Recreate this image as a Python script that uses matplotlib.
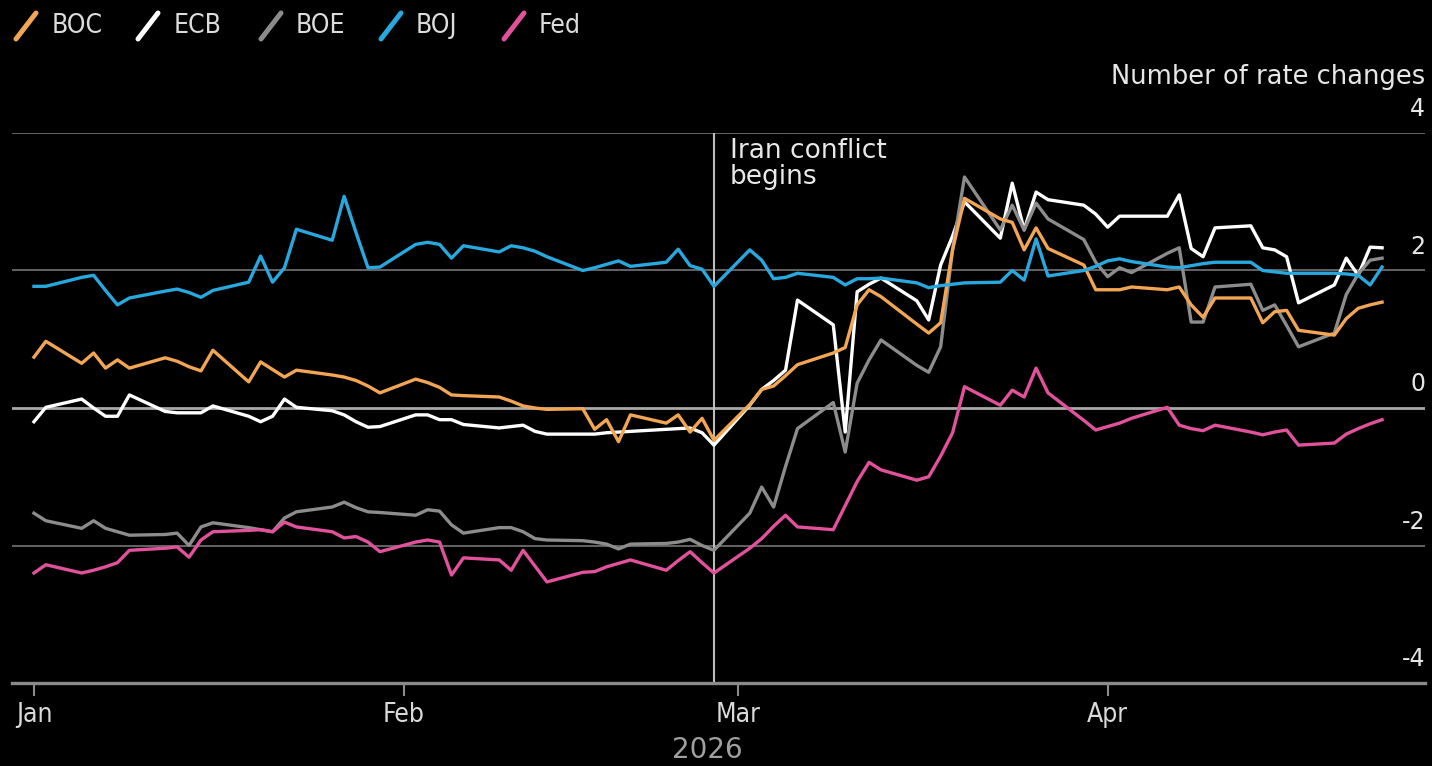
import numpy as np
import pandas as pd
import matplotlib
matplotlib.use("Agg")
import matplotlib.pyplot as plt
import matplotlib.transforms as mtransforms
from matplotlib.lines import Line2D
from matplotlib import font_manager as fm

plt.rcParams['axes.unicode_minus'] = False

# ---------------- data ----------------
dates = pd.bdate_range('2026-01-01', '2026-04-24')

boc = [0.74, 0.97, 0.65, 0.80, 0.58, 0.70, 0.58, 0.73, 0.68, 0.60, 0.54, 0.84, 0.38, 0.67, 0.56, 0.45, 0.55, 0.48, 0.45, 0.40, 0.32, 0.22,
       0.42, 0.37, 0.30, 0.19, 0.18, 0.16, 0.10, 0.03, 0.00, -0.02, -0.01, -0.31, -0.17, -0.49, -0.10, -0.22, -0.10, -0.35, -0.15, -0.47,
       0.05, 0.27, 0.32, 0.47, 0.63, 0.80, 0.88, 1.50, 1.72, 1.62, 1.22, 1.09, 1.24, 2.30, 3.05, 2.75, 2.70, 2.30, 2.62, 2.32, 2.08, 1.72,
       1.72, 1.72, 1.76, 1.72, 1.76, 1.50, 1.32, 1.60, 1.60, 1.24, 1.40, 1.42, 1.13, 1.06, 1.30, 1.45, 1.50, 1.54]

ecb = [-0.20, 0.01, 0.13, 0.00, -0.12, -0.12, 0.19, -0.05, -0.07, -0.07, -0.07, 0.03, -0.12, -0.20, -0.12, 0.13, 0.01, -0.04, -0.10, -0.20, -0.28, -0.27,
       -0.10, -0.10, -0.17, -0.17, -0.24, -0.29, -0.27, -0.25, -0.34, -0.38, -0.38, -0.38, -0.36, -0.35, -0.34, -0.31, -0.30, -0.29, -0.36, -0.54,
       0.04, 0.27, 0.40, 0.55, 1.57, 1.21, -0.35, 1.69, 1.80, 1.89, 1.56, 1.28, 2.08, 2.50, 3.00, 2.47, 3.27, 2.59, 3.14, 3.03, 2.95, 2.82,
       2.63, 2.79, 2.79, 2.79, 3.10, 2.32, 2.20, 2.62, 2.65, 2.33, 2.30, 2.20, 1.53, 1.79, 2.18, 1.93, 2.34, 2.33]

boe = [-1.53, -1.64, -1.75, -1.64, -1.75, -1.80, -1.85, -1.84, -1.82, -2.00, -1.73, -1.67, -1.74, -1.77, -1.80, -1.60, -1.51, -1.44, -1.37, -1.45, -1.51, -1.52,
       -1.56, -1.48, -1.50, -1.70, -1.82, -1.74, -1.74, -1.80, -1.90, -1.92, -1.93, -1.95, -1.98, -2.05, -1.98, -1.97, -1.95, -1.91, -2.00, -2.07,
       -1.53, -1.15, -1.44, -0.85, -0.30, 0.08, -0.64, 0.36, 0.70, 0.99, 0.62, 0.52, 0.89, 2.30, 3.36, 2.59, 2.95, 2.59, 2.98, 2.75, 2.45, 2.12,
       1.91, 2.04, 1.97, 2.25, 2.33, 1.25, 1.25, 1.76, 1.80, 1.42, 1.50, 1.20, 0.89, 1.09, 1.65, 1.95, 2.15, 2.18]

boj = [1.77, 1.77, 1.90, 1.93, 1.71, 1.50, 1.60, 1.70, 1.73, 1.68, 1.61, 1.71, 1.83, 2.21, 1.83, 2.04, 2.60, 2.44, 3.08, 2.55, 2.04, 2.05,
       2.38, 2.41, 2.38, 2.18, 2.36, 2.27, 2.36, 2.33, 2.28, 2.20, 2.00, 2.04, 2.09, 2.14, 2.06, 2.12, 2.31, 2.07, 2.02, 1.77,
       2.30, 2.15, 1.88, 1.90, 1.96, 1.90, 1.79, 1.88, 1.88, 1.89, 1.82, 1.75, 1.78, 1.80, 1.82, 1.83, 2.00, 1.86, 2.46, 1.92, 2.00, 2.06,
       2.14, 2.17, 2.13, 2.05, 2.04, 2.07, 2.10, 2.12, 2.12, 2.00, 1.98, 1.96, 1.96, 1.96, 1.95, 1.93, 1.79, 2.05]

fed = [-2.40, -2.28, -2.40, -2.36, -2.31, -2.25, -2.07, -2.04, -2.02, -2.17, -1.92, -1.80, -1.78, -1.77, -1.80, -1.66, -1.73, -1.80, -1.89, -1.87, -1.95, -2.09,
       -1.95, -1.92, -1.95, -2.43, -2.18, -2.21, -2.36, -2.07, -2.30, -2.53, -2.39, -2.38, -2.31, -2.26, -2.21, -2.36, -2.22, -2.09, -2.25, -2.40,
       -2.04, -1.90, -1.72, -1.56, -1.73, -1.77, -1.42, -1.07, -0.79, -0.90, -1.05, -1.00, -0.70, -0.36, 0.31, 0.04, 0.26, 0.16, 0.58, 0.22, -0.18, -0.32,
       -0.27, -0.22, -0.15, 0.01, -0.25, -0.30, -0.33, -0.25, -0.35, -0.39, -0.35, -0.32, -0.54, -0.51, -0.38, -0.30, -0.23, -0.17]

series_names = ['BOC', 'ECB', 'BOE', 'BOJ', 'Fed']
series_colors = ['#f2a553', '#ffffff', '#8c8c8c', '#27a9df', '#e2519c']
series_values = [boc, ecb, boe, boj, fed]
draw_order = ['ECB', 'BOE', 'Fed', 'BOC', 'BOJ']

month_ticks = ['2026-01-01', '2026-02-01', '2026-03-01', '2026-04-01']
month_labels = ['Jan', 'Feb', 'Mar', 'Apr']
y_ticks = [-4, -2, 0, 2, 4]
event_date = '2026-02-27'
event_label = 'Iran conflict\nbegins'

# ---------------- fonts ----------------
entries = fm.fontManager.ttflist
names = {f.name for f in entries}
if 'Liberation Sans Narrow' in names:
    narrow = dict(family='Liberation Sans Narrow', stretch='normal')
    leg_size, mon_size = 22, 21
elif any(f.name == 'DejaVu Sans' and str(f.stretch) in ('condensed', 'semi-condensed') for f in entries):
    narrow = dict(family='DejaVu Sans', stretch='condensed')
    leg_size, mon_size = 19, 19
else:
    narrow = dict(family='DejaVu Sans', stretch='normal')
    leg_size, mon_size = 17, 17

# ---------------- figure ----------------
W, H = 1432, 766
fig = plt.figure(figsize=(W / 100, H / 100), dpi=100, facecolor='black')
ax = fig.add_axes([12 / W, 83 / H, 1413 / W, 550 / H], facecolor='black')

x0 = pd.Timestamp('2026-01-01')
ax.set_xlim(x0 - pd.Timedelta(days=1.84), x0 + pd.Timedelta(days=116.6))
ax.set_ylim(-4, 4)

# grid
for v in y_ticks:
    if v == 0:
        ax.axhline(v, color='#a9a9a9', lw=2.0, zorder=1)
    elif v != -4:
        ax.axhline(v, color='#6c6c6c', lw=1.3, zorder=1)

ax.axvline(pd.Timestamp(event_date), color='#bdbdbd', lw=1.5, zorder=1.5)
ax.text(pd.Timestamp(event_date) + pd.Timedelta(days=1.35), 3.93, event_label,
        ha='left', va='top', fontsize=19, color='#e8e8e8', linespacing=1.0, zorder=5)

lookup = dict(zip(series_names, zip(series_colors, series_values)))
for i, name in enumerate(draw_order):
    c, vals = lookup[name]
    ax.plot(dates, vals, color=c, lw=2.4, zorder=3 + i, solid_joinstyle='round')

# spines
for s in ['top', 'left', 'right']:
    ax.spines[s].set_visible(False)
ax.spines['bottom'].set_color('#8a8a8a')
ax.spines['bottom'].set_linewidth(2.4)

# x ticks
ax.set_xticks([pd.Timestamp(d) for d in month_ticks])
ax.set_xticklabels(month_labels, fontfamily=narrow['family'], fontstretch=narrow['stretch'])
ax.tick_params(axis='x', direction='out', length=9, width=1.5, color='#8a8a8a',
               pad=5, labelcolor='#dadada', labelsize=mon_size)

# y ticks on the right, above the grid lines
ax.set_yticks(y_ticks)
ax.set_yticklabels([str(v) for v in y_ticks])
ax.yaxis.tick_right()
ax.tick_params(axis='y', length=0, pad=0, labelsize=17, labelcolor='#e6e6e6',
               left=False, labelleft=False, right=False, labelright=True)
offset = mtransforms.ScaledTranslation(0, 0.165, fig.dpi_scale_trans)
for lab in ax.yaxis.get_majorticklabels():
    lab.set_horizontalalignment('right')
    lab.set_verticalalignment('baseline')
    lab.set_transform(lab.get_transform() + offset)

fig.text(1425 / W, 1 - 77 / H, 'Number of rate changes', ha='right', va='center',
         fontsize=18.5, color='#e6e6e6')
fig.text(707 / W, 1 - 750 / H, '2026', ha='center', va='center', fontsize=20, color='#a0a0a0')

# legend (manual, top-left)
marker_x = [13, 135, 258, 378, 501]
text_x = [52, 174, 296, 416, 539]
for name, c, mx, tx in zip(series_names, series_colors, marker_x, text_x):
    fig.add_artist(Line2D([(mx + 3) / W, (mx + 23) / W], [1 - 39 / H, 1 - 13 / H],
                          transform=fig.transFigure, color=c, lw=3.6, solid_capstyle='round'))
    fig.text(tx / W, 1 - 26 / H, name, ha='left', va='center', fontsize=leg_size,
             color='#dcdcdc', family=narrow['family'], fontstretch=narrow['stretch'])

fig.savefig('out.png', dpi=100, facecolor='black')
